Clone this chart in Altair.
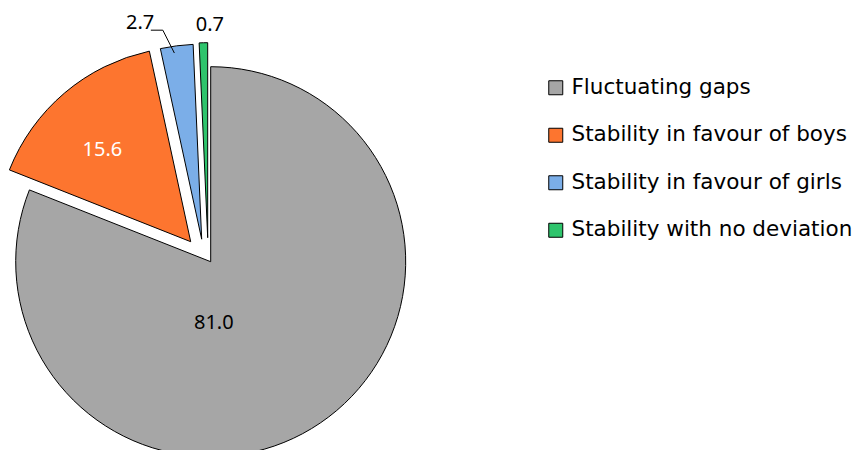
import altair as alt
import pandas as pd

# ---- data ----
categories = [
    "Fluctuating gaps",
    "Stability in favour of boys",
    "Stability in favour of girls",
    "Stability with no deviation",
]
values = [81.0, 15.6, 2.7, 0.7]
labels = ["81.0", "15.6", "2.7", "0.7"]

# ---- styles ----
colors = ["#a6a6a6", "#fd752f", "#7baee8", "#2ec46c"]
label_colors = ["#000000", "#ffffff", "#000000", "#000000"]
explode_dx = [0, -20, -9, -3]          # per-slice explosion offset (px)
explode_dy = [0, -20, -22.5, -24]
label_shift_deg = [31.3, -3.7, -8.5, 1.85]   # label angle relative to slice mid-angle
label_radius = [61, 127, 225, 213]            # label distance from slice centre
leader = [0, 0, 1, 0]
FONT = "Noto Sans"
LEGEND_FONT = "DejaVu Sans"
CX, CY, R = 210.7, 261.7, 195

df = pd.DataFrame({
    "category": categories,
    "value": values,
    "label": labels,
    "lcolor": label_colors,
    "edx": explode_dx,
    "edy": explode_dy,
    "lshift": label_shift_deg,
    "lr": label_radius,
    "leader": leader,
})

base = (
    alt.Chart(df)
    .transform_joinaggregate(total="sum(value)")
    .transform_window(cum="sum(value)", frame=[None, 0])
    .transform_calculate(
        t0="2*PI*(datum.cum - datum.value)/datum.total",
        t1="2*PI*datum.cum/datum.total",
    )
    .transform_calculate(
        cx=f"{CX} + datum.edx",
        cy=f"{CY} + datum.edy",
        tm="(datum.t0 + datum.t1)/2 + datum.lshift*PI/180",
        am="datum.t0 + 0.4*(datum.t1 - datum.t0)",
    )
    .transform_calculate(
        lx="datum.cx + datum.lr*sin(datum.tm)",
        ly="datum.cy - datum.lr*cos(datum.tm)",
        ax=f"datum.cx + {0.965*R}*sin(datum.am)",
        ay=f"datum.cy - {0.965*R}*cos(datum.am)",
    )
    .transform_calculate(
        l0x="datum.lx + 10.7",
        l1x="datum.lx + 22.7",
        l0y="datum.ly + 7.4",
    )
)

arcs = base.mark_arc(outerRadius=R, stroke="black", strokeWidth=1).encode(
    theta=alt.Theta("t0:Q", scale=None, stack=None),
    theta2="t1:Q",
    x=alt.X("cx:Q", scale=None),
    y=alt.Y("cy:Q", scale=None),
    color=alt.Color(
        "category:N",
        scale=alt.Scale(domain=categories, range=colors),
        legend=alt.Legend(
            title=None,
            orient="none",
            legendX=545,
            legendY=77,
            symbolType="square",
            symbolSize=196,
            symbolStrokeColor="black",
            symbolStrokeWidth=1,
            labelFont=LEGEND_FONT,
            labelFontSize=21.5,
            labelColor="black",
            labelOffset=5,
            labelLimit=400,
            rowPadding=24.5,
        ),
    ),
    order=alt.Order("t0:Q"),
)

texts = base.mark_text(font=FONT, fontSize=20, baseline="middle", align="center").encode(
    x=alt.X("lx:Q", scale=None),
    y=alt.Y("ly:Q", scale=None),
    text="label:N",
    color=alt.Color("lcolor:N", scale=None),
)

lead_h = base.transform_filter("datum.leader == 1").mark_rule(color="black", strokeWidth=1).encode(
    x=alt.X("l0x:Q", scale=None),
    x2="l1x:Q",
    y=alt.Y("l0y:Q", scale=None),
    y2="l0y:Q",
)
lead_d = base.transform_filter("datum.leader == 1").mark_rule(color="black", strokeWidth=1).encode(
    x=alt.X("l1x:Q", scale=None),
    x2="ax:Q",
    y=alt.Y("l0y:Q", scale=None),
    y2="ay:Q",
)

chart = (
    alt.layer(arcs, lead_h, lead_d, texts)
    .properties(width=854, height=450, autosize=alt.AutoSizeParams(type="none"), padding=0)
    .configure_view(stroke=None)
)

chart.save("out.html", embed_options={"renderer": "svg", "actions": False})
